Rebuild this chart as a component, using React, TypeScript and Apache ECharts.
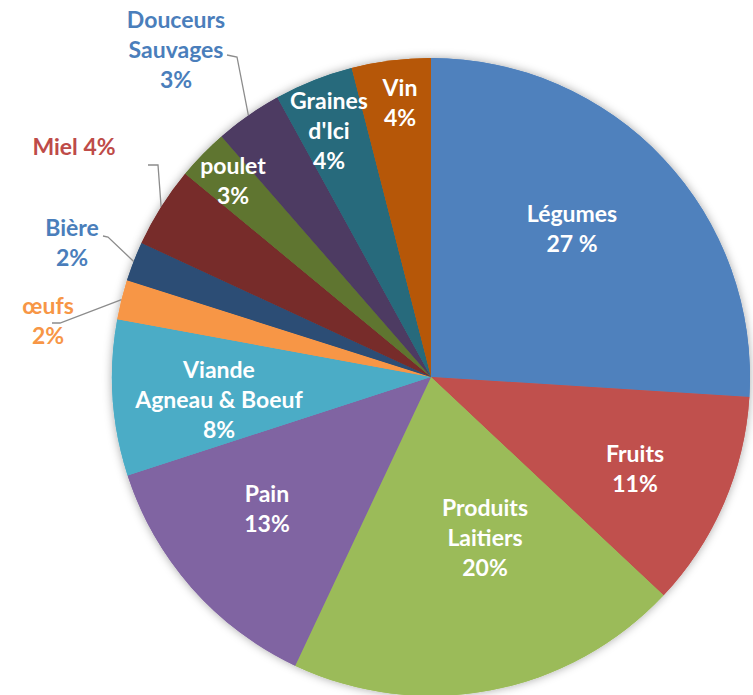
import React, { useEffect, useRef } from "react";
import * as echarts from "echarts";

// ---- data ----
const categories = [
  "Légumes", "Fruits", "Produits Laitiers", "Pain", "Viande Agneau & Boeuf",
  "œufs", "Bière", "Miel", "poulet", "Douceurs Sauvages", "Graines d'Ici", "Vin",
];
const values = [26, 11, 20, 13, 7.9, 2, 2, 4.1, 2.6, 3.4, 4, 4];
const pctLabels = ["27 %", "11%", "20%", "13%", "8%", "2%", "2%", "4%", "3%", "3%", "4%", "4%"];
const labelNames = [
  "Légumes", "Fruits", "Produits\nLaitiers", "Pain", "Viande\nAgneau & Boeuf",
  "œufs", "Bière", "Miel", "poulet", "Douceurs\nSauvages", "Graines\nd'Ici", "Vin",
];

// ---- styles / layout ----
const colors = [
  "#4F81BD", "#C0504D", "#9BBB59", "#8064A2", "#4BACC6", "#F79646",
  "#2C4D75", "#772C2A", "#5F7530", "#4D3B62", "#276A7C", "#B65708",
];
const CX = 431, CY = 377, R = 319;
// label centres (layout only)
const labelPos: [number, number][] = [
  [572, 228], [635, 468], [485, 537], [267, 508], [219, 399],
  [48, 320], [72, 242], [74, 146], [233, 180], [176, 49], [329, 130], [400, 102],
];
const outsideStyle: Record<number, { color: string; elbow: [number, number][] }> = {
  5: { color: "#F79646", elbow: [[52, 323], [60, 323]] },
  6: { color: "#4A7EBB", elbow: [[103, 236], [108, 237]] },
  7: { color: "#BE4B48", elbow: [[148, 165], [158, 165]] },
  9: { color: "#4A7EBB", elbow: [[227, 55], [237, 57]] },
};

function midAngle(i: number) {
  const total = values.reduce((a, b) => a + b, 0);
  let before = 0;
  for (let k = 0; k < i; k++) before += values[k];
  return ((before + values[i] / 2) / total) * Math.PI * 2;
}

export default function App() {
  const ref = useRef<HTMLDivElement>(null);
  useEffect(() => {
    if (!ref.current) return;
    const chart = echarts.init(ref.current, null, { renderer: "svg" });
    const font = { fontFamily: "Lato, 'Open Sans', sans-serif", fontWeight: "bold" as const, fontSize: 23, lineHeight: 30 };

    const mainData = categories.map((name, i) => {
      const outside = outsideStyle[i] !== undefined;
      const text = labelNames[i] + (i === 7 ? " " : "\n") + pctLabels[i];
      return {
        name,
        value: values[i],
        itemStyle: { color: colors[i] },
        label: {
          show: true,
          position: outside ? "outside" : "inside",
          formatter: text,
          color: outside ? outsideStyle[i].color : "#FFFFFF",
          align: "center",
          ...font,
        },
        labelLine: {
          show: outside,
          lineStyle: { color: "#8C8C8C", width: 1.3 },
        },
      };
    });

    chart.setOption({
      animation: false,
      backgroundColor: "#FFFFFF",
      series: [
        {
          type: "pie",
          silent: true,
          z: 1,
          center: [CX, CY],
          radius: R,
          startAngle: 90,
          clockwise: true,
          label: { show: false },
          labelLine: { show: false },
          data: categories.map((name, i) => ({
            name,
            value: values[i],
            itemStyle: {
              color: colors[i],
              shadowBlur: 10,
              shadowColor: "rgba(0,0,0,0.35)",
            },
          })),
        },
        {
          type: "pie",
          z: 2,
          center: [CX, CY],
          radius: R,
          startAngle: 90,
          clockwise: true,
          avoidLabelOverlap: false,
          data: mainData,
          labelLayout: (params: any) => {
            const i = params.dataIndex;
            const [x, y] = labelPos[i];
            const o = outsideStyle[i];
            if (!o) {
              return { x, y, align: "center", verticalAlign: "middle" };
            }
            const a = midAngle(i);
            const edge = [CX + R * Math.sin(a), CY - R * Math.cos(a)];
            return {
              x,
              y,
              align: "center",
              verticalAlign: "middle",
              labelLinePoints: [o.elbow[0], o.elbow[1], edge],
            };
          },
        },
      ],
    });
    return () => chart.dispose();
  }, []);

  return (
    <div
      ref={ref}
      style={{ position: "fixed", left: 0, top: 0, width: 753, height: 695 }}
    />
  );
}
